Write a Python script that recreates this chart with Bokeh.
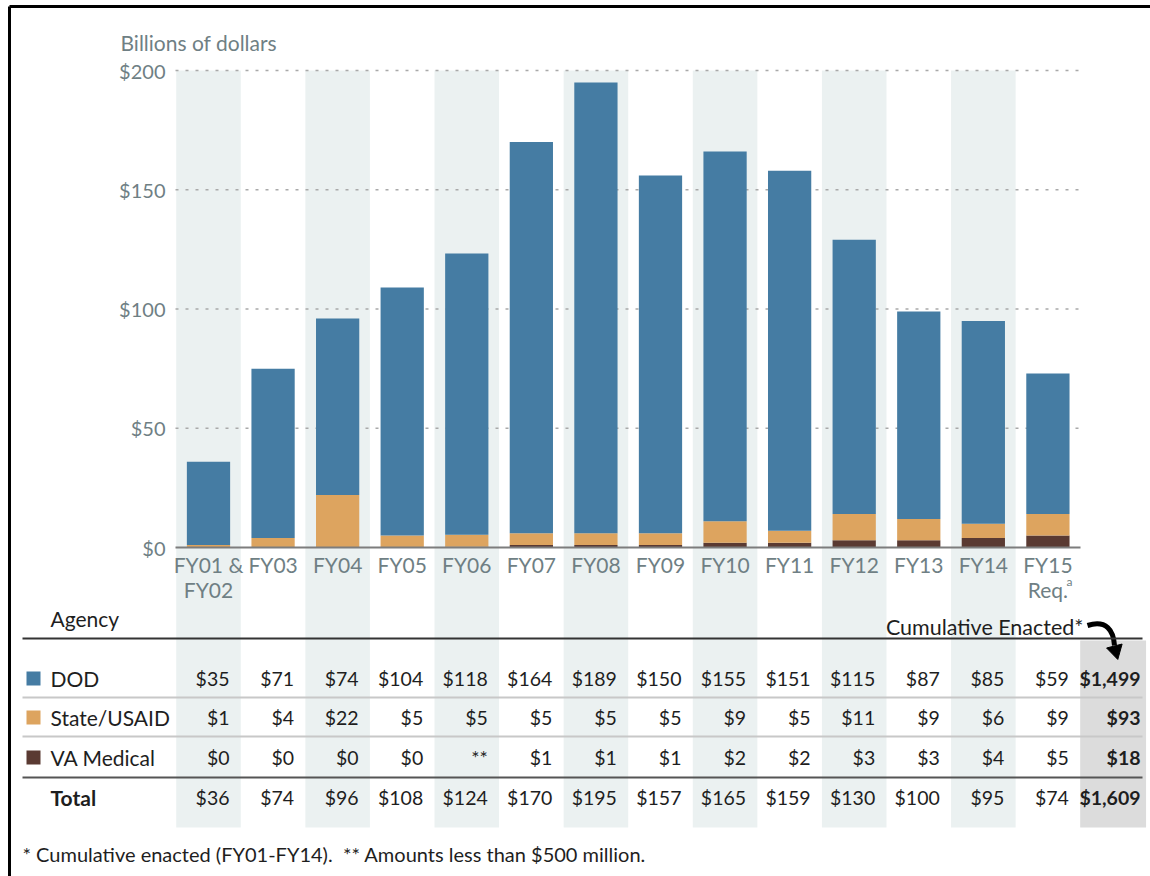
import math
from bokeh.plotting import figure
from bokeh.models import Range1d
from bokeh.core.properties import value
from bokeh.embed import file_html
from bokeh.resources import INLINE

# ---------------- data ----------------
label_line1 = ["FY01 &", "FY03", "FY04", "FY05", "FY06", "FY07", "FY08", "FY09",
               "FY10", "FY11", "FY12", "FY13", "FY14", "FY15"]
label_line2 = ["FY02", "", "", "", "", "", "", "", "", "", "", "", "", "Req."]
dod = [35, 71, 74, 104, 118, 164, 189, 150, 155, 151, 115, 87, 85, 59]
state = [1, 4, 22, 5, 5, 5, 5, 5, 9, 5, 11, 9, 6, 9]
va = [0, 0, 0, 0, 0.3, 1, 1, 1, 2, 2, 3, 3, 4, 5]
total = [36, 74, 96, 108, 124, 170, 195, 157, 165, 159, 130, 100, 95, 74]
dod_txt = ["$35", "$71", "$74", "$104", "$118", "$164", "$189", "$150", "$155", "$151", "$115", "$87", "$85", "$59"]
state_txt = ["$1", "$4", "$22", "$5", "$5", "$5", "$5", "$5", "$9", "$5", "$11", "$9", "$6", "$9"]
va_txt = ["$0", "$0", "$0", "$0", "**", "$1", "$1", "$1", "$2", "$2", "$3", "$3", "$4", "$5"]
total_txt = ["$36", "$74", "$96", "$108", "$124", "$170", "$195", "$157", "$165", "$159", "$130", "$100", "$95", "$74"]
agencies = ["DOD", "State/USAID", "VA Medical"]
cumulative_txt = ["$1,499", "$93", "$18", "$1,609"]
y_ticks = [0, 50, 100, 150, 200]
y_tick_labels = ["$0", "$50", "$100", "$150", "$200"]

C_DOD = "#457ca3"
C_STATE = "#dda45f"
C_VA = "#5a3a32"
C_BAND = "#ebf1f1"
C_CUM = "#dcdcdc"
C_GRAYTXT = "#6f7f84"
C_TXT = "#1e1e1e"
FONT = value("Lato")

# ---------------- layout helpers (screen px -> data) ----------------
CX0, DX = 208.0, 64.57
ZERO_PY, PPU = 547.0, 2.385


def px2x(px):
    return (px - CX0) / DX


def py2y(py):
    return (ZERO_PY - py) / PPU


W, H = 1150, 876
X0, X1 = px2x(0), px2x(W)
Y0, Y1 = py2y(H), py2y(0)

p = figure(width=W, height=H, x_range=Range1d(X0, X1), y_range=Range1d(Y0, Y1),
           x_axis_type=None, y_axis_type=None, toolbar_location=None,
           output_backend="svg", min_border=0)
p.outline_line_color = None
p.outline_line_alpha = 0
p.background_fill_color = "white"
p.border_fill_color = "white"

n = len(dod)
xs = list(range(n))

# shaded alternating bands
band_x = [i for i in xs if i % 2 == 0]
band_bottom = py2y(827)
p.quad(left=[i - 0.5 for i in band_x], right=[i + 0.5 for i in band_x],
       bottom=band_bottom, top=200, fill_color=C_BAND, line_color=None)
# cumulative column
p.quad(left=[n - 0.5], right=[n + 0.52], bottom=band_bottom, top=py2y(640),
       fill_color=C_CUM, line_color=None)

# gridlines
grid_y = [t for t in y_ticks if t > 0]
p.segment(x0=px2x(175), x1=px2x(1078), y0=grid_y, y1=grid_y,
          line_color="#a9a9a9", line_width=1.5, line_dash="3 7")

# stacked bars
b1 = va
b2 = [a + b for a, b in zip(va, state)]
b3 = [a + b for a, b in zip(b2, dod)]
bw = 0.67
p.vbar(x=xs, width=bw, bottom=0, top=b1, fill_color=C_VA, line_color=None)
p.vbar(x=xs, width=bw, bottom=b1, top=b2, fill_color=C_STATE, line_color=None)
p.vbar(x=xs, width=bw, bottom=b2, top=b3, fill_color=C_DOD, line_color=None)

# zero axis line
p.segment(x0=[px2x(175)], x1=[px2x(1080)], y0=[0], y1=[0], line_color="#7d7d7d", line_width=2)

# y tick labels
p.text(x=[px2x(165)] * len(y_ticks), y=y_ticks, text=y_tick_labels, text_font=FONT,
       text_font_size="20px", text_align="right", text_baseline="middle", text_color=C_GRAYTXT)
p.text(x=[px2x(120)], y=[py2y(42)], text=["Billions of dollars"], text_font=FONT,
       text_font_size="21px", text_align="left", text_baseline="middle", text_color=C_GRAYTXT)

# x labels
p.text(x=xs, y=[py2y(564)] * n, text=label_line1, text_font=FONT, text_font_size="21px",
       text_align="center", text_baseline="middle", text_color=C_GRAYTXT)
p.text(x=xs, y=[py2y(589)] * n, text=label_line2, text_font=FONT, text_font_size="21px",
       text_align="center", text_baseline="middle", text_color=C_GRAYTXT)
p.text(x=[px2x(1066)], y=[py2y(581)], text=["a"], text_font=FONT, text_font_size="12px",
       text_align="left", text_baseline="middle", text_color=C_GRAYTXT)

# table header
p.text(x=[px2x(50)], y=[py2y(618)], text=["Agency"], text_font=FONT, text_font_size="21px",
       text_align="left", text_baseline="middle", text_color=C_TXT)
p.text(x=[px2x(1083)], y=[py2y(626)], text=["Cumulative Enacted*"], text_font=FONT,
       text_font_size="21.5px", text_align="right", text_baseline="middle", text_color=C_TXT)
# curved arrow
p.bezier(x0=[px2x(1087)], y0=[py2y(625)], x1=[px2x(1114)], y1=[py2y(645)],
         cx0=[px2x(1106)], cy0=[py2y(619)], cx1=[px2x(1113)], cy1=[py2y(630)],
         line_color="black", line_width=5)
p.scatter(x=[px2x(1115)], y=[py2y(650)], marker="triangle", size=16,
          angle=math.pi + 0.25, fill_color="black", line_color="black")

# table lines
lx0, lx1 = px2x(22), px2x(1142)
p.segment(x0=[lx0], x1=[lx1], y0=[py2y(638)], y1=[py2y(638)], line_color="#333333", line_width=2)
p.segment(x0=[lx0, lx0], x1=[lx1, lx1], y0=[py2y(697), py2y(736)], y1=[py2y(697), py2y(736)],
          line_color="#c8c8c8", line_width=2)
p.segment(x0=[lx0], x1=[lx1], y0=[py2y(777)], y1=[py2y(777)], line_color="#555555", line_width=2)

row_py = [678, 717, 757, 797]
row_y = [py2y(v) for v in row_py]
# legend squares + agency names
p.scatter(x=[px2x(33)] * 3, y=row_y[:3], marker="square", size=14,
          fill_color=[C_DOD, C_STATE, C_VA], line_color=None)
p.text(x=[px2x(50)] * 3, y=row_y[:3], text=agencies, text_font=FONT, text_font_size="21px",
       text_align="left", text_baseline="middle", text_color=C_TXT)
p.text(x=[px2x(50)], y=[row_y[3]], text=["Total"], text_font=FONT, text_font_size="21px",
       text_font_style="bold", text_align="left", text_baseline="middle", text_color=C_TXT)

off = 21.0 / DX
for txt, yy in zip([dod_txt, state_txt, va_txt, total_txt], row_y):
    p.text(x=[i + off for i in xs], y=[yy] * n, text=txt, text_font=FONT, text_font_size="19.5px",
           text_align="right", text_baseline="middle", text_color=C_TXT)
p.text(x=[px2x(1140)] * 4, y=row_y, text=cumulative_txt, text_font=FONT, text_font_size="19.5px",
       text_font_style="bold", text_align="right", text_baseline="middle", text_color=C_TXT)

# footnote
p.text(x=[px2x(22)], y=[py2y(853)],
       text=["* Cumulative enacted (FY01-FY14).\u00a0\u00a0** Amounts less than $500 million."],
       text_font=FONT, text_font_size="20px", text_align="left", text_baseline="middle",
       text_color=C_TXT)

# frame (top and left edges)
p.segment(x0=[px2x(9)], x1=[px2x(9)], y0=[Y0], y1=[py2y(6)], line_color="black", line_width=3)
p.segment(x0=[px2x(9)], x1=[X1], y0=[py2y(6)], y1=[py2y(6)], line_color="black", line_width=3)

open("out.html", "w").write(file_html(p, INLINE))
